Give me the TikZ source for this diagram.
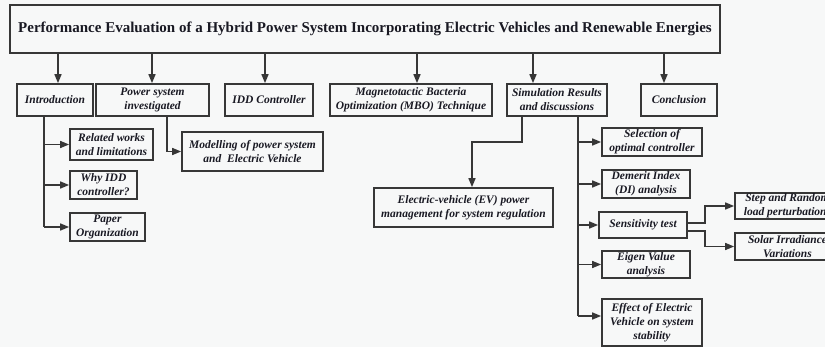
\documentclass[tikz,border=0pt]{standalone}
\usepackage{fontspec}
\setmainfont{Liberation Serif}
\usetikzlibrary{arrows.meta}
\definecolor{bg}{RGB}{247,248,248}
\definecolor{ln}{RGB}{55,55,55}
\definecolor{tx}{RGB}{25,25,35}
\tikzset{
  box/.style={draw=ln, line width=1.7pt, fill=bg, inner sep=1pt, align=center,
    text=tx, font=\fontsize{11.5}{14}\selectfont\bfseries\itshape},
  conn/.style={draw=ln, line width=1.5pt},
  arr/.style={conn, -{Triangle[length=9pt,width=7pt]}}
}
\begin{document}
\begin{tikzpicture}[x=1pt,y=-1pt]
\fill[bg] (0,0) rectangle (825,347);
\useasboundingbox (0,0) rectangle (825,347);
\clip (0,0) rectangle (825,347);
% title
\node[box, minimum width=710, minimum height=48, font=\fontsize{15}{17}\selectfont\bfseries, line width=1.9pt] (title) at (365,29)
  {Performance Evaluation of a Hybrid Power System Incorporating Electric Vehicles and Renewable Energies};
% first row
\node[box, minimum width=76, minimum height=32] (intro) at (55,100) {Introduction};
\node[box, minimum width=113, minimum height=32] (psi) at (152.5,100) {Power system\\investigated};
\node[box, minimum width=88, minimum height=32] (idd) at (269,100) {IDD Controller};
\node[box, minimum width=162, minimum height=32] (mbo) at (411,100) {Magnetotactic Bacteria\\Optimization (MBO) Technique};
\node[box, minimum width=100, minimum height=32] (sim) at (557,100) {Simulation Results\\and discussions};
\node[box, minimum width=76, minimum height=32] (conc) at (679,100) {Conclusion};
% children
\node[box, minimum width=83, minimum height=31] (rel) at (111.5,144.5) {Related works\\and limitations};
\node[box, minimum width=67, minimum height=28] (why) at (103.5,185) {Why IDD\\controller?};
\node[box, minimum width=75, minimum height=28] (pap) at (107.5,227) {Paper\\Organization};
\node[box, minimum width=141, minimum height=39] (mod) at (252.5,151.5) {Modelling of power system\\and\ \ Electric Vehicle};
\node[box, minimum width=179, minimum height=39] (ev) at (463.5,207.5) {Electric-vehicle (EV) power\\management for system regulation};
\node[box, minimum width=100, minimum height=28] (sel) at (652,142) {Selection of\\optimal controller};
\node[box, minimum width=88, minimum height=28] (dem) at (646,184) {Demerit Index\\(DI) analysis};
\node[box, minimum width=88, minimum height=26] (sen) at (643,225) {Sensitivity test};
\node[box, minimum width=88, minimum height=27] (eig) at (646,264.5) {Eigen Value\\analysis};
\node[box, minimum width=100, minimum height=47] (eff) at (652,322.5) {Effect of Electric\\Vehicle on system\\stability};
\node[box, minimum width=105, minimum height=26] (step) at (787.5,206) {Step and Random\\load perturbations};
\node[box, minimum width=105, minimum height=27] (sol) at (787.5,246.5) {Solar Irradiance\\Variations};
% helper coordinates
\coordinate (c1) at (58,0);
\coordinate (c2) at (152,0);
\coordinate (c3) at (265,0);
\coordinate (c4) at (417,0);
\coordinate (c5) at (533,0);
\coordinate (c6) at (664,0);
\coordinate (ix) at (44,0);
\coordinate (px) at (167,0);
\coordinate (sx) at (522,142);
\coordinate (ex) at (472,142);
\coordinate (rx) at (578,0);
\coordinate (effy) at (0,316);
\coordinate (sa) at (687,223);
\coordinate (sb) at (687,231);
\coordinate (tx) at (705,0);
% title arrows
\draw[arr] (title.south -| c1) -- (intro.north -| c1);
\draw[arr] (title.south -| c2) -- (psi.north -| c2);
\draw[arr] (title.south -| c3) -- (idd.north -| c3);
\draw[arr] (title.south -| c4) -- (mbo.north -| c4);
\draw[arr] (title.south -| c5) -- (sim.north -| c5);
\draw[arr] (title.south -| c6) -- (conc.north -| c6);
% introduction
\draw[conn] (intro.south -| ix) -- (ix |- pap.west);
\draw[arr] (ix |- rel.west) -- (rel.west);
\draw[arr] (ix |- why.west) -- (why.west);
\draw[arr] (ix |- pap.west) -- (pap.west);
% power system
\draw[arr] (psi.south -| px) |- (mod.west);
% simulation
\draw[arr] (sim.south -| sx) -- (sx) -- (ex) -- (ev.north -| ex);
\draw[conn] (sim.south -| rx) -- (rx |- effy);
\draw[arr] (rx |- sel.west) -- (sel.west);
\draw[arr] (rx |- dem.west) -- (dem.west);
\draw[arr] (rx |- sen.west) -- (sen.west);
\draw[arr] (rx |- eig.west) -- (eig.west);
\draw[arr] (rx |- effy) -- (eff.west |- effy);
% sensitivity
\draw[arr] (sa) -- (tx |- sa) |- (step.west);
\draw[arr] (sb) -- (tx |- sb) |- (sol.west);
\end{tikzpicture}
\end{document}
